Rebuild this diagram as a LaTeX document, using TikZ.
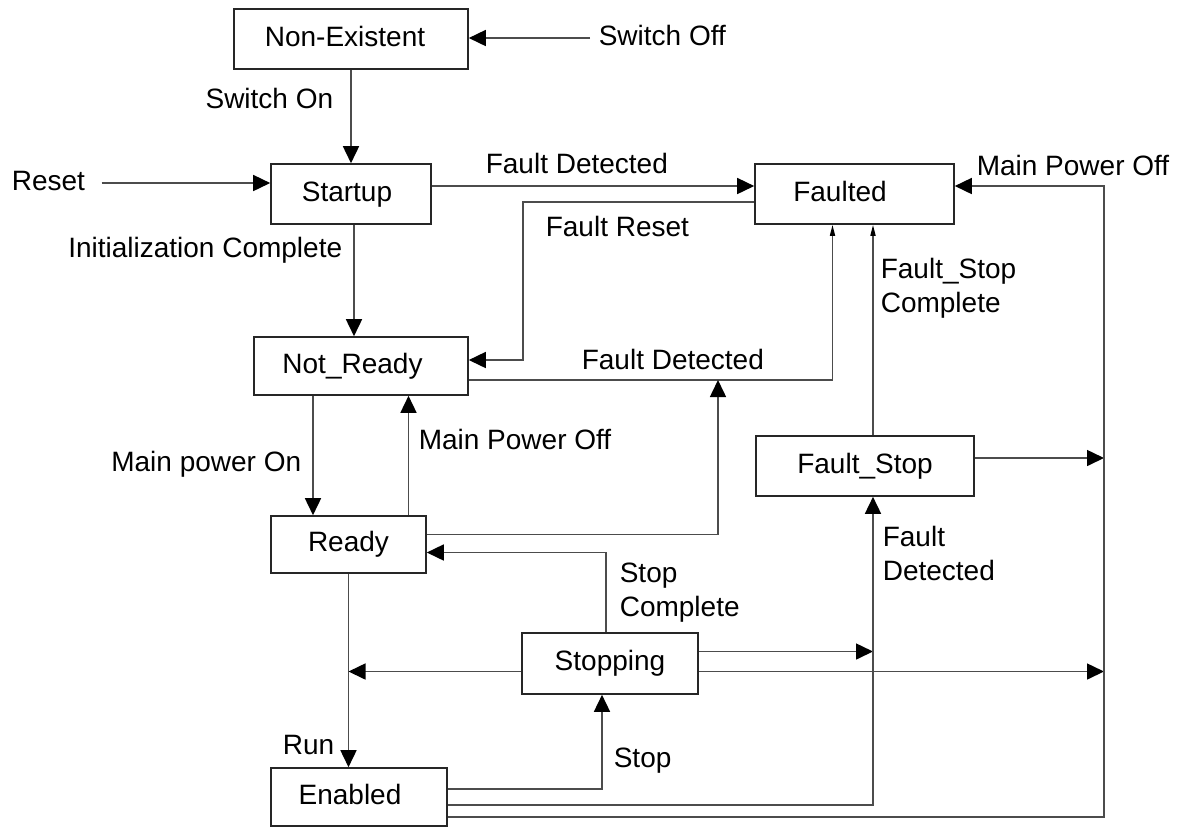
\documentclass[tikz,border=0pt]{standalone}
\usepackage{fontspec}
\setmainfont{Liberation Sans}
\usetikzlibrary{arrows.meta}

\begin{document}
\begin{tikzpicture}[x=0.5pt,y=-0.5pt]
\path[use as bounding box] (0,0) rectangle (1185,827);

\tikzstyle{every node}+=[font=\fontsize{14}{17}\selectfont]
\tikzstyle{every path}+=[line width=0.8pt,black!70]
\tikzstyle{state}=[draw=black!85,rectangle,inner sep=0pt,text height=10pt,text depth=3pt,text=black,line width=0.8pt]
\tikzstyle{lab}=[inner sep=0pt,text height=10pt,text depth=3pt,text=black]
\tikzstyle{lablines}=[inner sep=0pt,align=left,anchor=west,text=black]
\tikzstyle{arr}=[-{Triangle[length=8.5pt,width=8pt,color=black]}]
\tikzstyle{thin arr}=[-{Triangle[length=5.5pt,width=2.5pt,color=black]}]
\tikzset{txtl/.style={execute at begin node={\hspace*{-#1}}}}

% states
\node[state,txtl=6pt,minimum width=117pt,minimum height=30pt] (ne) at (351,39) {Non-Existent};
\node[state,txtl=4pt,minimum width=80pt,minimum height=30pt] (su) at (351,194) {Startup};
\node[state,txtl=8.5pt,minimum width=107pt,minimum height=29pt] (nr) at (361,366) {Not\_Ready};
\node[state,txtl=14.5pt,minimum width=99.5pt,minimum height=30pt] (fa) at (854.5,194) {Faulted};
\node[state,minimum width=77.5pt,minimum height=28.5pt] (rd) at (348.5,544.5) {Ready};
\node[state,minimum width=109pt,minimum height=30pt] (fs) at (865,466) {Fault\_Stop};
\node[state,minimum width=88pt,minimum height=30.5pt] (sp) at (610,663.5) {Stopping};
\node[state,txtl=9pt,minimum width=88pt,minimum height=29pt] (en) at (359,797) {Enabled};

% transition labels
\node[lab,anchor=base west] (lswoff) at (598,45) {Switch Off};
\node[lab,anchor=base east] (lswon) at (334,108) {Switch On};
\node[lab,anchor=base west] (lreset) at (11,190) {Reset};
\node[lab,anchor=base west] (lfd1) at (485,173) {Fault Detected};
\node[lab,anchor=base west] (lfr) at (545,236) {Fault Reset};
\node[lab,anchor=base east] (linit) at (343,257) {Initialization Complete};
\node[lab,anchor=base west] (lfd2) at (581,369) {Fault Detected};
\node[lab,anchor=base west] (lmpo1) at (976,175) {Main Power Off};
\node[lablines] (lfsc) at (880,288) {Fault\_Stop\\Complete};
\node[lab,anchor=base east] (lmpon) at (302,471) {Main power On};
\node[lab,anchor=base west] (lmpo2) at (418,449) {Main Power Off};
\node[lablines] (lsc) at (619,593) {Stop\\Complete};
\node[lablines] (lfd3) at (882,553) {Fault\\Detected};
\node[lab,anchor=base west] (lrun) at (282,754) {Run};
\node[lab,anchor=base west] (lstop) at (613,767) {Stop};

% junctions
\coordinate (bus) at (1104,186);
\coordinate (fdj) at (718,380);
\coordinate (fsin) at ([xshift=4pt]fs.south);

% transitions
\draw[arr,shorten <=4pt] (lswoff.west) -- (lswoff.west -| ne.east);
\draw[arr] (ne) -- (su);
\draw[arr,shorten <=8pt] (lreset.east) -- (lreset.east -| su.west);
\draw[arr] ([yshift=4pt]su.east) -- ([yshift=4pt]su.east -| fa.west);
\draw[arr] ([yshift=-4pt]fa.west) -- ++(-231,0) |- ([yshift=3pt]nr.east);
\draw[arr] ([xshift=1.5pt]su.south) -- ([xshift=1.5pt]su.south |- nr.north);
\draw[thin arr] ([yshift=-7pt]nr.east) -| ([xshift=-11pt]fa.south);
\draw[arr] ([yshift=5pt]rd.east) -| (fdj);
\draw[arr] ([xshift=-24pt]nr.south) -- ([xshift=-24pt]nr.south |- rd.north);
\draw[arr] ([xshift=30pt]rd.north) -- ([xshift=30pt]rd.north |- nr.south);
\draw[arr] ([xshift=-2pt]sp.north) |- ([yshift=-4pt]rd.east);
\draw[arr] (rd) -- (rd |- en.north);
\draw[arr] ([yshift=4pt]en.east) -| ([xshift=-4pt]sp.south);
\draw[arr] ([yshift=-4pt]sp.west) -- ([yshift=-4pt]sp.west -| rd.south);
\draw[arr] ([yshift=6pt]sp.east) -- ([yshift=6pt]sp.east -| fsin);
\draw[arr] ([yshift=-4pt]sp.east) -- ([yshift=-4pt]sp.east -| bus);
\draw[arr] ([yshift=4pt]fs.east) -- ([yshift=4pt]fs.east -| bus);
\draw[arr] ([yshift=-4pt]en.east) -| (fsin);
\draw[thin arr] ([xshift=4pt]fs.north) -- ([xshift=4pt]fs.north |- fa.south);
\draw[arr] ([yshift=-10pt]en.east) -| (bus) -- ([yshift=4pt]fa.east);
\end{tikzpicture}
\end{document}
